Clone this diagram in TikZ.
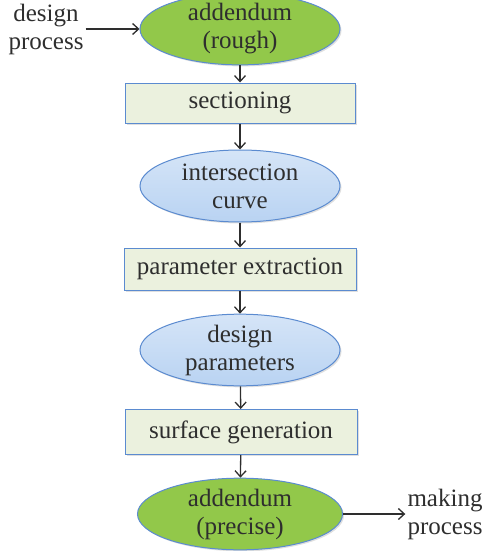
\documentclass[tikz,border=0pt]{standalone}
\usepackage{fontspec}
\setmainfont{Liberation Serif}
\usepackage{tikz}
\usetikzlibrary{arrows.meta, shapes.geometric, shadows}

\definecolor{leafgreen}{HTML}{92C84A}
\definecolor{skyblue}{HTML}{B9D3F2}
\definecolor{edgeblue}{HTML}{5B8BD0}
\definecolor{boxfill}{HTML}{EBF1DE}
\definecolor{inktext}{HTML}{2E2E2E}

\tikzset{
    stage/.style={ellipse, draw=edgeblue, line width=1pt, minimum width=200pt,
        minimum height=66pt, inner sep=0pt, align=center, text=inktext,
        drop shadow={shadow xshift=1.5pt, shadow yshift=-1.5pt, opacity=0.25}},
    greenstage/.style={stage, fill=leafgreen},
    bluestage/.style={stage, top color=skyblue!60, bottom color=skyblue},
    stepbox/.style={rectangle, draw=edgeblue, line width=1pt, fill=boxfill,
        minimum width=232pt, minimum height=42pt, text=inktext,
        drop shadow={shadow xshift=1.5pt, shadow yshift=-1.5pt, opacity=0.25}},
    flow/.style={->, line width=1.3pt, draw=inktext}
}

\begin{document}
\begin{tikzpicture}[x=1pt, y=-1pt, >={Straight Barb[length=6pt, width=11pt]},
    font=\fontsize{25}{28}\selectfont]
    \useasboundingbox (0,0) rectangle (488,551);
    % main chain
    \node[greenstage, minimum height=60pt] (rough) at (240,29) {addendum\\(rough)};
    \node[stepbox, minimum width=230pt, minimum height=40pt] (section) at (240,103) {sectioning};
    \node[bluestage, minimum height=72pt] (curve) at (240,186) {intersection\\curve};
    \node[stepbox] (extract) at (240,269) {parameter extraction};
    \node[bluestage, minimum height=70pt] (params) at (240,350) {design\\parameters};
    \node[stepbox, minimum height=45pt] (surface) at (241,432) {surface generation};
    \node[greenstage, minimum width=205pt, minimum height=68pt] (precise) at (240,514) {addendum\\(precise)};
    % side labels
    \node[align=center, text=inktext, inner sep=2pt] (designin) at (46,29) {design\\process};
    \node[align=center, text=inktext, inner sep=2pt] (makingout) at (445,514) {making\\process};

    \draw[flow] (designin.east) -- (rough.west);
    \draw[flow] (rough) -- (section);
    \draw[flow] (section) -- (curve);
    \draw[flow] (curve) -- (extract);
    \draw[flow] (extract) -- (params);
    \draw[flow] (params) -- (surface);
    \draw[flow] (surface) -- (precise);
    \draw[flow] (precise.east) -- (makingout.west);
\end{tikzpicture}
\end{document}
